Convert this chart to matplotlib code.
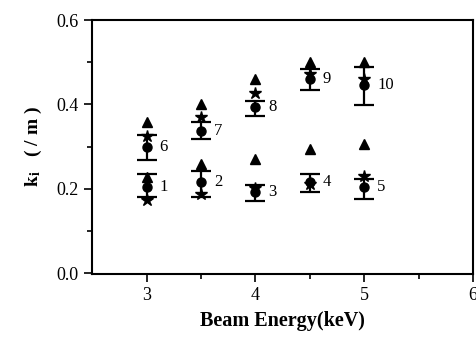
import matplotlib

matplotlib.use("Agg")

import matplotlib.pyplot as plt
import numpy as np

energy = [3.0, 3.5, 4.0, 4.5, 5.0]

# upper group (labels 6-10)
upper_circle = [0.299, 0.337, 0.393, 0.459, 0.447]
upper_err_hi = [0.327, 0.358, 0.407, 0.485, 0.489]
upper_err_lo = [0.268, 0.318, 0.372, 0.435, 0.398]
upper_star = [0.325, 0.369, 0.428, 0.473, 0.459]
upper_tri = [0.358, 0.400, 0.459, 0.501, 0.501]
upper_labels = ["6", "7", "8", "9", "10"]

# lower group (labels 1-5)
lower_circle = [0.205, 0.216, 0.193, 0.216, 0.205]
lower_err_hi = [0.235, 0.242, 0.209, 0.235, 0.224]
lower_err_lo = [0.180, 0.181, 0.170, 0.193, 0.176]
lower_star = [0.174, 0.188, 0.202, 0.212, 0.231]
lower_tri = [0.228, 0.259, 0.271, 0.294, 0.306]
lower_labels = ["1", "2", "3", "4", "5"]

plt.rcParams["font.family"] = ["Liberation Serif", "DejaVu Serif"]
plt.rcParams["mathtext.fontset"] = "stix"

fig = plt.figure(figsize=(4.77, 3.45), dpi=100)
ax = fig.add_axes([0.193, 0.206, 0.799, 0.736])

for circ, hi, lo, star, tri, labels in [
    (upper_circle, upper_err_hi, upper_err_lo, upper_star, upper_tri, upper_labels),
    (lower_circle, lower_err_hi, lower_err_lo, lower_star, lower_tri, lower_labels),
]:
    circ = np.array(circ)
    yerr = [circ - np.array(lo), np.array(hi) - circ]
    ax.errorbar(energy, circ, yerr=yerr, fmt="o", color="black", ms=6.5,
                capsize=7, capthick=1.6, elinewidth=1.6)
    ax.plot(energy, star, "*", color="black", ms=9, ls="none")
    ax.plot(energy, tri, "^", color="black", ms=7, ls="none")
    for x, y, lab in zip(energy, circ, labels):
        ax.text(x + 0.12, y, lab, fontsize=12, va="center", ha="left")

ax.set_xlim(2.5, 6.0)
ax.set_ylim(-0.002, 0.6)
ax.set_xticks([3, 4, 5, 6])
ax.set_xticks([3.5, 4.5, 5.5], minor=True)
ax.set_yticks([0.0, 0.2, 0.4, 0.6])
ax.set_yticks([0.1, 0.3, 0.5], minor=True)
ax.set_yticklabels(["0.0", "0.2", "0.4", "0.6"])
ax.tick_params(which="major", direction="out", length=6, width=1.2, labelsize=13)
ax.tick_params(which="minor", direction="out", length=3.5, width=1.2)
for sp in ax.spines.values():
    sp.set_linewidth(1.5)

ax.set_xlabel("Beam Energy(keV)", fontsize=14.5, fontweight="bold", labelpad=5)
ax.set_ylabel(r"$\mathbf{k_i}$   ( / m )", fontsize=14, fontweight="bold", labelpad=9)

fig.savefig("out.png", dpi=100)
